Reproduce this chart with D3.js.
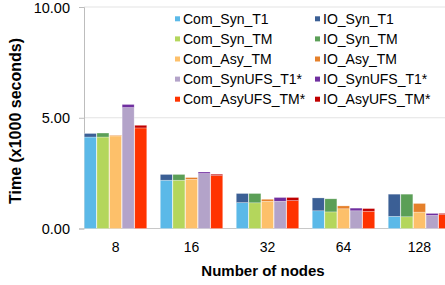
<!DOCTYPE html>
<html>
<head>
<meta charset="utf-8">
<script src="https://cdn.jsdelivr.net/npm/d3@7"></script>
<style>
  body { margin: 0; background: #fff; }
  text { font-family: "Liberation Sans", Arial, sans-serif; fill: #000; }
</style>
</head>
<body>
<div id="chart"></div>
<script>
// node counts on the x axis
var aNodes = ["8", "16", "32", "64", "128"];
// the five runs, each drawn as a Com + IO stack
var aConfigs = ["Syn_T1", "Syn_TM", "Asy_TM", "SynUFS_T1*", "AsyUFS_TM*"];
// time in x1000 seconds, one entry per node count
var comSynT1 = [4.13, 2.18, 1.17, 0.80, 0.55];
var ioSynT1 = [0.16, 0.26, 0.41, 0.58, 1.00];
var comSynTM = [4.13, 2.18, 1.16, 0.75, 0.53];
var ioSynTM = [0.18, 0.26, 0.42, 0.59, 1.02];
var comAsyTM = [4.18, 2.22, 1.23, 0.89, 0.74];
var ioAsyTM = [0.03, 0.08, 0.09, 0.13, 0.39];
var comSynUFS = [5.46, 2.48, 1.23, 0.80, 0.59];
var ioSynUFS = [0.14, 0.07, 0.17, 0.12, 0.09];
var comAsyUFS = [4.54, 2.39, 1.26, 0.78, 0.63];
var ioAsyUFS = [0.12, 0.06, 0.14, 0.12, 0.05];
var yTicks = [0, 5, 10];

var aCom = [comSynT1, comSynTM, comAsyTM, comSynUFS, comAsyUFS];
var aIO = [ioSynT1, ioSynTM, ioAsyTM, ioSynUFS, ioAsyUFS];
var aComColors = ["#5bb9e8", "#b4d65c", "#fdc06a", "#b3a3c9", "#ff3300"];
var aIOColors = ["#3b5f95", "#5b9f57", "#e5802a", "#6f2f9f", "#c00000"];

var W = 445, H = 285;
var oSvg = d3.select("#chart").append("svg")
  .attr("width", W).attr("height", H);

var x0 = d3.scaleBand()
  .domain(aNodes)
  .range([84, 451])
  .paddingInner(0.17)
  .paddingOuter(0);

var x1 = d3.scaleBand()
  .domain(aConfigs)
  .range([0, x0.bandwidth()])
  .padding(0);

var y = d3.scaleLinear()
  .domain([0, 10])
  .range([228.5, 7]);

// gridlines
oSvg.append("g")
  .selectAll("line")
  .data(yTicks)
  .enter().append("line")
  .attr("x1", 84).attr("x2", W)
  .attr("y1", function(d) { return y(d); })
  .attr("y2", function(d) { return y(d); })
  .attr("stroke", function(d) { return d === 0 ? "#c8c8c8" : "#e3e3e3"; })
  .attr("stroke-width", 1);

// y axis
var yAxis = oSvg.append("g")
  .attr("transform", "translate(84,0)")
  .call(d3.axisLeft(y).tickValues(yTicks).tickFormat(d3.format(".2f")).tickSize(5).tickPadding(9));
yAxis.select(".domain").attr("stroke", "#bdbdbd");
yAxis.selectAll(".tick line").attr("stroke", "#bdbdbd");
yAxis.selectAll(".tick text")
  .style("font-size", "14.5px")
  .attr("fill", "#000")
  .attr("y", function(d) { return d === 10 ? 1.2 : 0; }); // keep the top label inside the page

// stacked bars
var groups = oSvg.append("g")
  .selectAll("g")
  .data(aNodes)
  .enter().append("g")
  .attr("transform", function(d) { return "translate(" + x0(d) + ",0)"; });

groups.each(function(sNode, iNode) {
  var g = d3.select(this);
  aConfigs.forEach(function(sCfg, iCfg) {
    var fCom = aCom[iCfg][iNode], fIO = aIO[iCfg][iNode];
    g.append("rect")
      .attr("x", x1(sCfg) + 0.3)
      .attr("width", x1.bandwidth() - 0.6)
      .attr("y", y(fCom))
      .attr("height", y(0) - y(fCom))
      .attr("fill", aComColors[iCfg])
      .attr("stroke", "rgba(255,255,255,0.45)")
      .attr("stroke-width", 0.6);
    g.append("rect")
      .attr("x", x1(sCfg) + 0.3)
      .attr("width", x1.bandwidth() - 0.6)
      .attr("y", y(fCom + fIO))
      .attr("height", y(fCom) - y(fCom + fIO))
      .attr("fill", aIOColors[iCfg])
      .attr("stroke", "rgba(255,255,255,0.45)")
      .attr("stroke-width", 0.6);
  });
});

// x tick labels
oSvg.append("g")
  .selectAll("text")
  .data(aNodes)
  .enter().append("text")
  .attr("x", function(d) { return x0(d) + x0.bandwidth() / 2; })
  .attr("y", 252)
  .attr("text-anchor", "middle")
  .style("font-size", "14px")
  .text(function(d) { return d; });

// axis titles
oSvg.append("text")
  .attr("x", 263).attr("y", 276)
  .attr("text-anchor", "middle")
  .style("font-size", "15px").style("font-weight", "bold")
  .text("Number of nodes");

oSvg.append("text")
  .attr("transform", "translate(21,121) rotate(-90)")
  .attr("text-anchor", "middle")
  .style("font-size", "16px").style("font-weight", "bold")
  .text("Time (x1000 seconds)");

// legend: Com in the left column, IO in the right one
var legend = oSvg.append("g");
aConfigs.forEach(function(sCfg, i) {
  var fRowY = 18.8 + i * 20.1;
  [["Com_", aComColors[i], 175], ["IO_", aIOColors[i], 315]].forEach(function(a) {
    legend.append("rect")
      .attr("x", a[2]).attr("y", fRowY - 2.5)
      .attr("width", 5).attr("height", 5)
      .attr("fill", a[1]);
    legend.append("text")
      .attr("x", a[2] + 8).attr("y", fRowY + 5)
      .style("font-size", "14px")
      .text(a[0] + sCfg);
  });
});
</script>
</body>
</html>
